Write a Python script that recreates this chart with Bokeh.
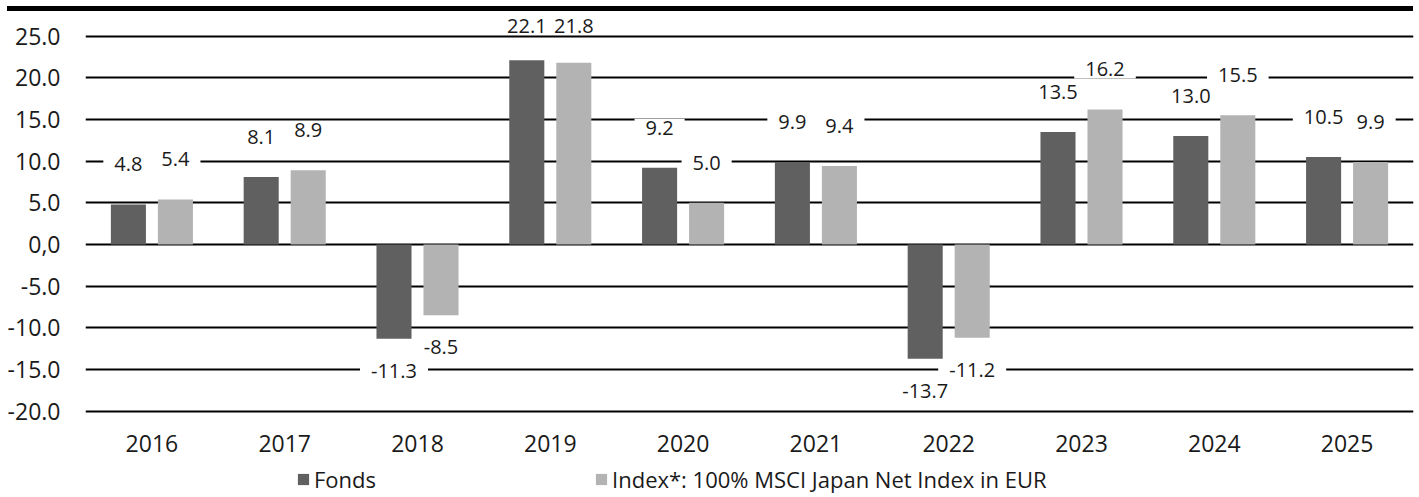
from bokeh.plotting import figure
from bokeh.models import (ColumnDataSource, FactorRange, Range1d, FixedTicker,
                          Legend, LegendItem, Div)
from bokeh.layouts import column
from bokeh.transform import dodge
from bokeh.embed import file_html
from bokeh.resources import INLINE
from bokeh.core.properties import value

# ---- data ----
years = ["2016", "2017", "2018", "2019", "2020", "2021", "2022", "2023", "2024", "2025"]
fonds = [4.8, 8.1, -11.3, 22.1, 9.2, 9.9, -13.7, 13.5, 13.0, 10.5]
index_vals = [5.4, 8.9, -8.5, 21.8, 5.0, 9.4, -11.2, 16.2, 15.5, 9.9]
series_names = ["Fonds", "Index*: 100% MSCI Japan Net Index in EUR"]
y_ticks = [-20, -15, -10, -5, 0, 5, 10, 15, 20, 25]
y_tick_labels = ["-20.0", "-15.0", "-10.0", "-5.0", "0,0", "5.0", "10.0", "15.0", "20.0", "25.0"]

FONT = "Open Sans"
TXT = "#1a1a1a"
C_FONDS = "#606060"
C_INDEX = "#b3b3b3"

Y_MIN, Y_MAX = -21.0, 27.95
FRAME_H = 408
PX_PER_UNIT = FRAME_H / (Y_MAX - Y_MIN)

def lab_offsets(vals):
    # labels float 40px above positive bars (kept inside the frame), 32px below negative ones
    out = []
    for v in vals:
        if v >= 0:
            out.append(-min(40, (Y_MAX - v) * PX_PER_UNIT - 14))
        else:
            out.append(32)
    return out

src = ColumnDataSource(dict(
    years=years, fonds=fonds, index_vals=index_vals,
    fonds_txt=[f"{v:.1f}" for v in fonds],
    index_txt=[f"{v:.1f}" for v in index_vals],
    fonds_off=lab_offsets(fonds),
    index_off=lab_offsets(index_vals),
))

# ---- main chart ----
p = figure(x_range=FactorRange(*years, range_padding=0),
           y_range=Range1d(Y_MIN, Y_MAX),
           width=1419, height=FRAME_H + 44,
           output_backend="svg", toolbar_location=None,
           min_border_left=85, min_border_right=6,
           min_border_top=0, min_border_bottom=44)
p.outline_line_color = None
p.background_fill_color = "white"
p.border_fill_color = "white"

p.xgrid.grid_line_color = None
p.ygrid.grid_line_color = "black"
p.ygrid.grid_line_width = 2
p.ygrid.ticker = FixedTicker(ticks=y_ticks)

p.yaxis.ticker = FixedTicker(ticks=y_ticks)
p.yaxis.major_label_overrides = {t: s for t, s in zip(y_ticks, y_tick_labels)}
p.yaxis.axis_line_color = None
p.yaxis.major_tick_line_color = None
p.yaxis.minor_tick_line_color = None
p.yaxis.major_tick_out = 0
p.yaxis.minor_tick_out = 0
p.yaxis.major_label_standoff = 25
p.yaxis.major_label_text_font = FONT
p.yaxis.major_label_text_font_size = "23px"
p.yaxis.major_label_text_color = TXT

p.xaxis.axis_line_color = None
p.xaxis.major_tick_line_color = None
p.xaxis.major_label_standoff = 9
p.xaxis.major_label_text_font = FONT
p.xaxis.major_label_text_font_size = "23px"
p.xaxis.major_label_text_color = TXT

BW = 0.264
DX = 0.177
p.vbar(x=dodge("years", -DX, range=p.x_range), top="fonds", bottom=0, width=BW,
       source=src, fill_color=C_FONDS, line_color=None)
p.vbar(x=dodge("years", DX, range=p.x_range), top="index_vals", bottom=0, width=BW,
       source=src, fill_color=C_INDEX, line_color=None)

pad = dict(left=11, right=11, top=2, bottom=2)
p.text(x=dodge("years", -DX, range=p.x_range), y="fonds", text="fonds_txt",
       y_offset="fonds_off", source=src, anchor="center", padding=pad,
       background_fill_color="white", text_font=value(FONT),
       text_font_size="20px", text_color=TXT)
p.text(x=dodge("years", DX, range=p.x_range), y="index_vals", text="index_txt",
       y_offset="index_off", source=src, anchor="center", padding=pad,
       background_fill_color="white", text_font=value(FONT),
       text_font_size="20px", text_color=TXT)

# ---- legend strip (same series, value range out of view so only the legend shows) ----
p2 = figure(width=1419, height=34, x_range=p.x_range, y_range=Range1d(100, 101),
            output_backend="svg", toolbar_location=None,
            x_axis_type=None, y_axis_type=None,
            min_border_left=0, min_border_right=0, min_border_top=0, min_border_bottom=0)
p2.outline_line_color = None
p2.xgrid.visible = False
p2.ygrid.visible = False
sw1 = p2.vbar(x=dodge("years", -DX, range=p.x_range), top="fonds", bottom=0, width=BW,
              source=src, fill_color=C_FONDS, line_color=None)
sw2 = p2.vbar(x=dodge("years", DX, range=p.x_range), top="index_vals", bottom=0, width=BW,
              source=src, fill_color=C_INDEX, line_color=None)
legend = Legend(items=[LegendItem(label=series_names[0], renderers=[sw1]),
                       LegendItem(label=series_names[1], renderers=[sw2])],
                orientation="horizontal", location=(211, 3),
                glyph_width=14, glyph_height=14, label_standoff=4,
                label_height=22, spacing=218, padding=0, margin=0,
                label_text_font=FONT, label_text_font_size="22px",
                label_text_color=TXT, border_line_color=None,
                background_fill_alpha=0)
p2.add_layout(legend, "center")

# ---- thick top rule ----
rule = Div(text="", width=1406, height=5, margin=(6, 0, 0, 7),
           styles={"background-color": "black"})

layout = column(rule, p, p2, spacing=0)
open("out.html", "w").write(file_html(layout, INLINE))
